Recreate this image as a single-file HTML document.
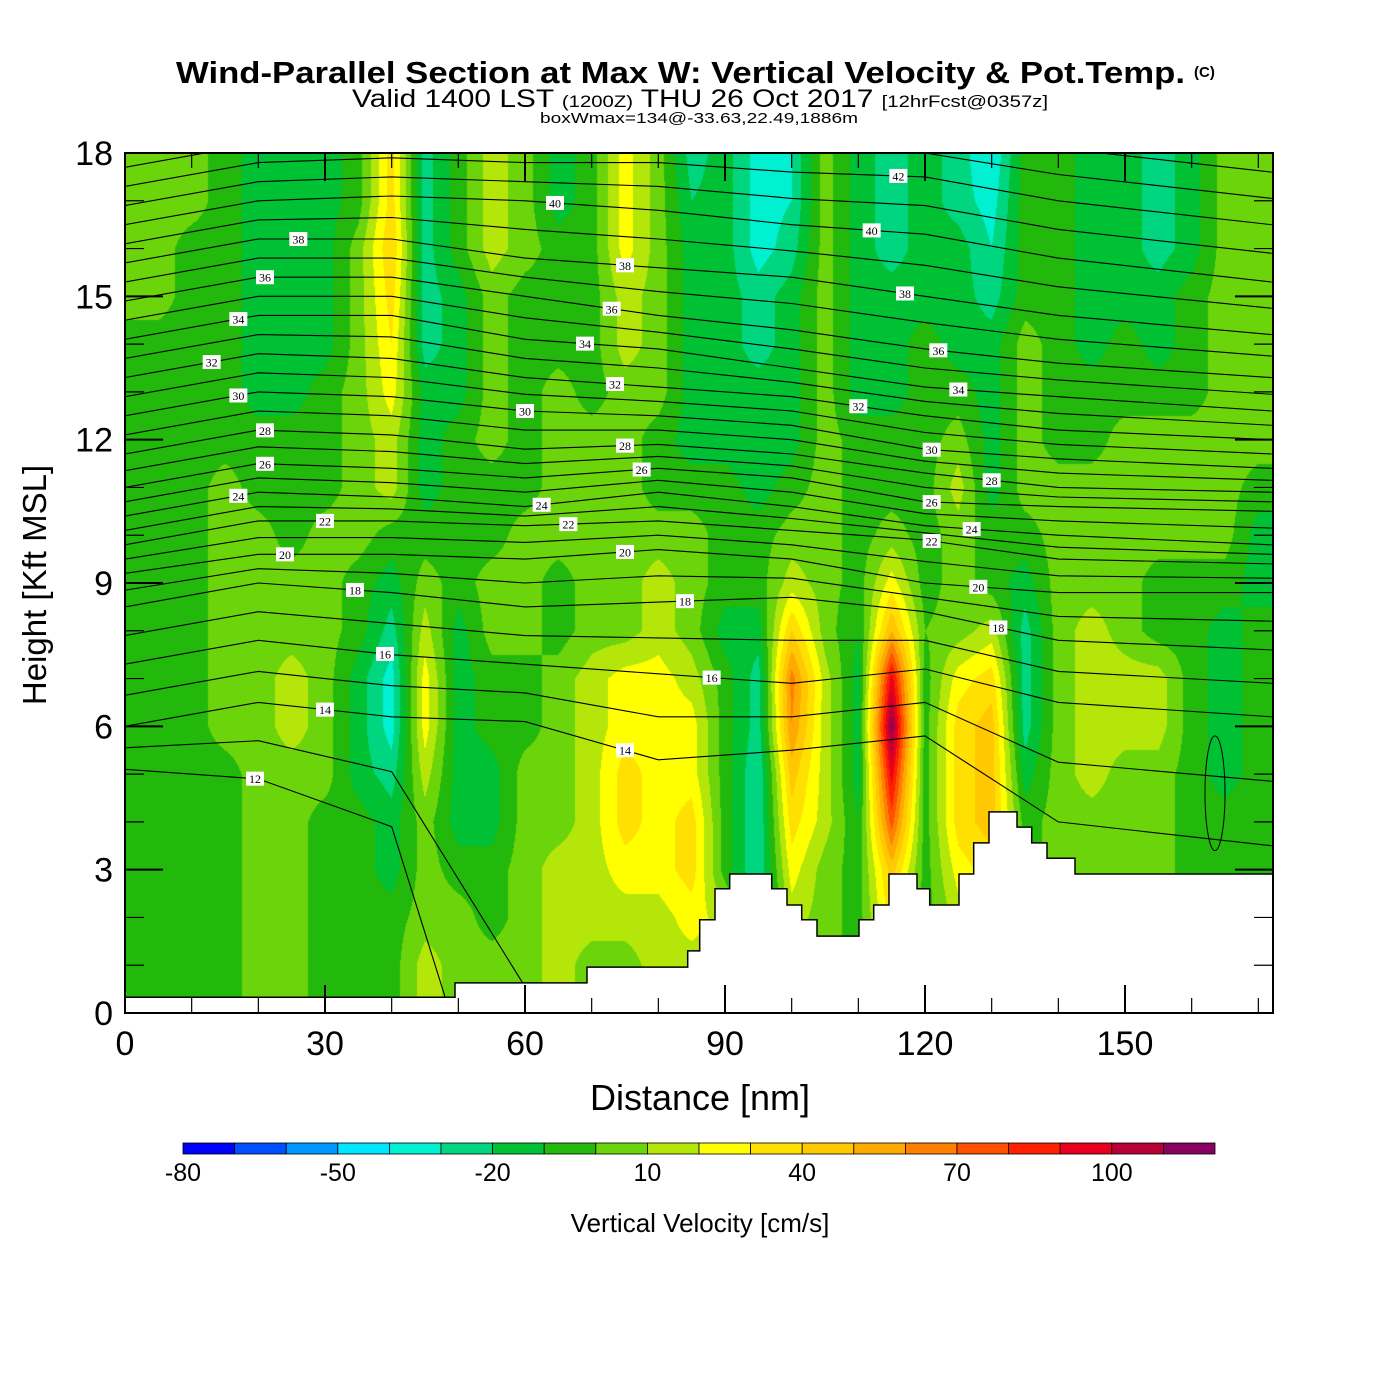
<!DOCTYPE html>
<html><head><meta charset="utf-8">
<style>
html,body{margin:0;padding:0;background:#fff;}
#wrap{position:relative;width:1400px;height:1400px;overflow:hidden;font-family:"Liberation Sans",sans-serif;}
#field{position:absolute;left:125px;top:153px;}
#ov{position:absolute;left:0;top:0;}
</style></head>
<body>
<div id="wrap">
<canvas id="field" width="1148" height="860"></canvas>
<svg id="ov" width="1400" height="1400" xmlns="http://www.w3.org/2000/svg">
<g>
<text x="176" y="83" textLength="1009" lengthAdjust="spacingAndGlyphs" font-size="31" font-weight="bold">Wind-Parallel Section at Max W: Vertical Velocity &amp; Pot.Temp.</text>
<text x="1194" y="77" font-size="15" font-weight="bold">(C)</text>
<text x="352" y="107" textLength="696" lengthAdjust="spacingAndGlyphs" font-size="25">Valid 1400 LST <tspan font-size="17">(1200Z)</tspan> THU 26 Oct 2017 <tspan font-size="17">[12hrFcst@0357z]</tspan></text>
<text x="540" y="123" textLength="318" lengthAdjust="spacingAndGlyphs" font-size="15">boxWmax=134@-33.63,22.49,1886m</text>
</g>
<g id="contours"></g>
<g id="terrain"></g>
<g id="labels"></g>
<g id="axes"></g>
<g id="cbar"></g>
<text x="700" y="1110" text-anchor="middle" font-size="36">Distance [nm]</text>
<text transform="translate(46,585) rotate(-90)" text-anchor="middle" font-size="33">Height [Kft MSL]</text>
<text x="700" y="1232" text-anchor="middle" font-size="26">Vertical Velocity [cm/s]</text>
</svg>
</div>
<script>
// ---- data ----
const gridX = [0,5,10,15,20,25,30,35,40,45,50,55,60,65,70,75,80,85,90,95,100,105,110,115,120,125,130,135,140,145,150,155,160,165,170];
const gridH = [18,17,16,15,14,13,12,11,10,9,8,7,6,5,4,3,2,1,0];
const w18=[5,5,5,-5,-15,-15,-15,-5,35,-25,-5,15,5,-15,-5,25,5,-25,-15,-35,-30,5,-15,-25,-15,-25,-40,-5,-5,-15,-15,-25,-15,5,5];
const w17=[5,5,5,-5,-15,-15,-15,-5,35,-25,-5,15,5,-15,-5,25,5,-20,-15,-35,-30,5,-15,-25,-15,-25,-35,-5,-5,-15,-15,-25,-15,5,5];
const w16=[5,5,-5,-5,-15,-15,-15,5,40,-25,-5,15,5,-5,-5,25,5,-15,-15,-35,-25,5,-15,-25,-15,-15,-30,-5,-5,-15,-15,-25,-15,5,5];
const w15=[5,5,-5,-5,-15,-15,-15,5,35,-25,-15,5,-5,-5,-5,15,5,-15,-15,-25,-15,5,-15,-15,-15,-15,-25,-5,-5,-15,-15,-15,-5,5,5];
const w14=[-5,-5,-5,-5,-15,-15,-15,5,30,-25,-15,5,-5,-5,-5,15,5,-15,-15,-25,-15,5,-15,-15,-5,-15,-15,5,-5,-15,-5,-15,-5,5,5];
const w13=[-5,-5,-5,-5,-15,-15,-5,5,25,-15,-15,5,-5,5,-5,5,5,-15,-15,-15,-15,5,-15,-15,-5,-5,-15,5,-5,-5,-5,-5,-5,5,5];
const w12=[-5,-5,-5,-5,-5,-5,-5,5,15,-15,-5,5,-5,5,5,5,-5,-15,-15,-15,-15,5,-5,-5,-5,5,-15,5,-5,-5,5,5,5,5,5];
const w11=[-5,-5,-5,5,-5,-5,-5,5,15,-15,-5,-5,-5,5,5,5,-5,-5,-5,-15,-5,5,-5,-5,-5,15,-15,5,5,5,5,5,5,5,-5];
const w10=[-5,-5,-5,5,5,-5,5,5,-5,-5,-5,-5,5,5,5,5,5,5,-5,-5,5,5,-5,5,-5,5,-5,-5,5,5,5,5,5,5,-15];
const w9=[-5,-5,-5,5,5,5,5,-5,-15,5,-5,5,5,-5,5,5,15,5,-5,-5,15,5,-5,25,-5,5,-5,-15,5,5,5,-5,-5,-5,-15];
const w8=[-5,-5,-5,5,5,5,5,-5,-25,15,-15,5,5,-5,5,5,15,5,-15,-15,40,5,-10,50,0,5,15,-25,5,15,5,-5,-5,-15,-5];
const w7=[-5,-5,-5,5,5,15,5,-15,-35,25,-15,-5,-5,5,15,25,25,15,-5,-25,65,15,-15,95,-5,25,35,-25,5,15,15,15,-5,-15,-5];
const w6=[-5,-5,-5,5,5,15,5,-15,-35,25,-15,-5,-5,5,15,25,25,25,-5,-25,60,15,-15,115,-5,35,45,-25,5,15,15,15,-5,-15,-5];
const w5=[-5,-5,-5,-5,5,5,5,-15,-25,15,-15,-15,5,5,15,35,25,25,-5,-30,45,15,-15,95,-5,35,45,-15,5,15,5,5,-5,-15,-5];
const w4=[-5,-5,-5,-5,5,5,-5,-5,-15,5,-15,-15,5,5,15,35,25,35,-5,-30,35,15,-10,75,-5,35,45,-5,5,5,5,5,-5,-5,-5];
const w3=[-5,-5,-5,-5,5,5,-5,-5,-15,5,-5,-5,5,15,15,25,25,35,-5,-30,25,5,-5,45,-5,25,35,-5,5,5,5,5,-5,-5,-5];
const w2=[-5,-5,-5,-5,5,5,-5,-5,-5,5,5,-5,5,15,15,15,15,25,15,-30,15,5,-5,35,-5,15,25,-5,5,5,5,5,-5,-5,-5];
const w1=[-5,-5,-5,-5,5,5,-5,-5,-5,15,5,5,5,15,5,5,15,15,15,-5,5,5,-5,25,-5,5,5,-5,5,5,5,5,-5,-5,-5];
const w0=[-5,-5,-5,-5,5,5,-5,-5,-5,15,5,5,5,15,5,5,15,15,15,-5,5,5,-5,25,-5,5,5,-5,5,5,5,5,-5,-5,-5];
const velRows=[w18,w17,w16,w15,w14,w13,w12,w11,w10,w9,w8,w7,w6,w5,w4,w3,w2,w1,w0];

const cbLevels=[-80,-70,-60,-50,-40,-30,-20,-10,0,10,20,30,40,50,60,70,80,90,100,110,120];
const cbColors=["#0000ff","#0050ff","#0096ff","#00e6ff","#00f0d2","#00d67f","#00c034","#22b80c","#6cd40a","#b4e60a","#ffff00","#ffe000","#ffc800","#ffaa00","#ff8000","#ff5000","#ff2000","#e8001e","#b80038","#880060"];
const cbTickLabels=["-80","-50","-20","10","40","70","100"];

const terrX=[0,49.5,69.3,84.4,86.2,88.5,90.7,97.0,99.3,101.5,103.8,110.1,112.3,114.6,118.8,120.7,125.1,127.3,129.6,133.8,136.0,138.3,142.5,172.2];
const terrH=[0.33,0.63,0.96,1.30,1.95,2.60,2.91,2.60,2.26,1.95,1.61,1.95,2.26,2.91,2.60,2.26,2.91,3.56,4.21,3.89,3.56,3.24,2.91];

const thetaX=[0,20,40,60,80,100,120,140,172];
const thetaLevels=[12,14,16,18,20,22,24,26,28,30,32,34,36,38,40,42,44];
const t12=[5.1,4.9,3.9,-5,-5,-5,-5,-5,-5];
const t14=[6.0,6.5,6.2,6.1,5.3,5.5,5.8,4.0,3.5];
const t16=[7.3,7.8,7.5,7.3,7.1,6.9,7.2,6.5,6.2];
const t18=[8.5,9.0,8.8,8.5,8.6,8.7,8.4,7.8,7.6];
const t20=[9.2,9.6,9.6,9.5,9.7,9.5,9.0,8.8,8.8];
const t22=[9.8,10.3,10.3,10.2,10.3,10.1,9.9,9.5,9.4];
const t24=[10.4,10.9,10.8,10.6,10.9,10.6,10.2,10.0,9.8];
const t26=[11.0,11.5,11.4,11.2,11.4,11.2,10.7,10.6,10.5];
const t28=[11.7,12.2,12.1,11.8,11.9,11.7,11.3,11.0,10.9];
const t30=[12.5,13.0,12.9,12.6,12.5,12.3,11.8,11.6,11.4];
const t32=[13.3,13.8,13.7,13.3,13.1,12.9,12.5,12.2,12.0];
const t34=[14.1,14.6,14.6,14.1,13.9,13.5,13.1,12.9,12.6];
const t36=[14.9,15.4,15.4,15.0,14.6,14.3,13.9,13.6,13.3];
const t38=[15.7,16.2,16.2,15.8,15.6,15.4,15.0,14.6,14.2];
const t40=[16.5,17.0,17.1,17.0,16.8,16.5,16.3,15.8,15.3];
const t42=[17.3,17.8,17.9,17.8,17.8,17.6,17.5,17.0,16.5];
const t44=[18.1,18.6,18.7,18.6,18.6,18.6,18.5,18.1,17.6];
const thetaRows=[t12,t14,t16,t18,t20,t22,t24,t26,t28,t30,t32,t34,t36,t38,t40,t42,t44];

const labelLevels=[38,36,34,32,30,28,26,24,22,20,18,16,14,12,40,38,36,34,32,30,28,26,24,22,20,18,16,14,42,40,38,36,34,32,30,26,28,24,22,20,18];
const labelX=[26,21,17,13,17,21,21,17,30,24,34.5,39,30,19.5,64.5,75,73,69,73.5,60,75,77.5,62.5,66.5,75,84,88,75,116,112,117,122,125,110,121,121,130,127,121,128,131];

const xTicks=[0,30,60,90,120,150];
const yTicks=[0,3,6,9,12,15,18];

// ---- scales ----
const X0=125,X1=1273,Y0=1013,Y1=153,XMAX=172.2,HMAX=18;
const sx=v=>X0+v*(X1-X0)/XMAX;
const sy=h=>Y0-h*(Y0-Y1)/HMAX;
const NS="http://www.w3.org/2000/svg";
function mk(tag,attrs,parent){const e=document.createElementNS(NS,tag);for(const k in attrs)e.setAttribute(k,attrs[k]);parent.appendChild(e);return e;}

// ---- field ----
function vel(nm,h){
  let fc=nm/5; if(fc<0)fc=0; if(fc>gridX.length-1)fc=gridX.length-1;
  let fr=(18-h); if(fr<0)fr=0; if(fr>18)fr=18;
  const c0=Math.min(Math.floor(fc),gridX.length-2), r0=Math.min(Math.floor(fr),17);
  const tx=fc-c0, ty=fr-r0;
  const a=velRows[r0][c0],b=velRows[r0][c0+1],c=velRows[r0+1][c0],d=velRows[r0+1][c0+1];
  return (a*(1-tx)+b*tx)*(1-ty)+(c*(1-tx)+d*tx)*ty;
}
function colorFor(v){
  let i=0; while(i<cbLevels.length-2 && v>=cbLevels[i+1]) i++;
  return cbColors[i];
}
const rgbCache={};
function rgb(hex){if(!rgbCache[hex])rgbCache[hex]=[parseInt(hex.substr(1,2),16),parseInt(hex.substr(3,2),16),parseInt(hex.substr(5,2),16)];return rgbCache[hex];}
(function(){
  const cv=document.getElementById('field');const ctx=cv.getContext('2d');
  const W=cv.width,H=cv.height;const img=ctx.createImageData(W,H);
  for(let py=0;py<H;py++){const h=HMAX-(py+0.5)*HMAX/H;
    for(let px=0;px<W;px++){const nm=(px+0.5)*XMAX/W;const c=rgb(colorFor(vel(nm,h)));const o=(py*W+px)*4;
      img.data[o]=c[0];img.data[o+1]=c[1];img.data[o+2]=c[2];img.data[o+3]=255;}}
  ctx.putImageData(img,0,0);
})();

// ---- contours ----
function thetaH(row,nm){
  for(let i=0;i<thetaX.length-1;i++){ if(nm<=thetaX[i+1]){const t=(nm-thetaX[i])/(thetaX[i+1]-thetaX[i]);return row[i]*(1-t)+row[i+1]*t;} }
  return row[row.length-1];
}
const cg=document.getElementById('contours');
const clip=mk('clipPath',{id:'plotclip'},mk('defs',{},cg));
mk('rect',{x:X0,y:Y1,width:X1-X0,height:Y0-Y1},clip);
cg.setAttribute('clip-path','url(#plotclip)');
for(let k=0;k<thetaRows.length;k++){
  const rows=[thetaRows[k]];
  if(k<thetaRows.length-1){rows.push(thetaRows[k].map((v,i)=>(v+thetaRows[k+1][i])/2));}
  rows.forEach(r=>{
    let d='';
    for(let i=0;i<thetaX.length;i++){d+=(i?'L':'M')+sx(thetaX[i]).toFixed(1)+' '+sy(r[i]).toFixed(1);}
    const p=mk('path',{d:d,fill:'none',stroke:'#000','stroke-width':1.1},cg);
    
    
  });
}
const ell=mk('ellipse',{cx:sx(163.5),cy:sy(4.6),rx:10,ry:Math.abs(sy(3.4)-sy(5.8))/2,fill:'none',stroke:'#000','stroke-width':1},cg);



// ---- terrain ----
(function(){
  const tg=document.getElementById('terrain');
  let d='M'+sx(0)+' '+Y0;
  for(let i=0;i<terrH.length;i++){d+=' L'+sx(terrX[i]).toFixed(1)+' '+sy(terrH[i]).toFixed(1)+' L'+sx(terrX[i+1]).toFixed(1)+' '+sy(terrH[i]).toFixed(1);}
  d+=' L'+X1+' '+Y0+' Z';
  const p=mk('path',{d:d,fill:'#fff',stroke:'#000','stroke-width':1.5},tg);
  
  
})();

// ---- labels ----
(function(){
  const lg=document.getElementById('labels');
  for(let i=0;i<labelLevels.length;i++){
    const k=thetaLevels.indexOf(labelLevels[i]);if(k<0)continue;
    const x=sx(labelX[i]),y=sy(thetaH(thetaRows[k],labelX[i]));
    const g=mk('g',{},lg);
    
    
    mk('rect',{x:x-9,y:y-7,width:18,height:14,fill:'#fff'},g);
    const t=mk('text',{x:x,y:y+4.5,'text-anchor':'middle','font-size':12,'font-family':'Liberation Serif, serif'},g);
    t.textContent=labelLevels[i];
  }
})();

// ---- axes ----
(function(){
  const ag=document.getElementById('axes');
  const fr=mk('rect',{x:X0,y:Y1,width:X1-X0,height:Y0-Y1,fill:'none',stroke:'#000','stroke-width':2},ag);
  
  
  for(let v=0;v<=170;v+=10){
    const major=v%30===0;const L=major?28:15;
    mk('line',{x1:sx(v),x2:sx(v),y1:Y0,y2:Y0-L,stroke:'#000','stroke-width':major?2:1.2},ag);
    mk('line',{x1:sx(v),x2:sx(v),y1:Y1,y2:Y1+L,stroke:'#000','stroke-width':major?2:1.2},ag);
  }
  xTicks.forEach(v=>{const t=mk('text',{x:sx(v),y:1055,'text-anchor':'middle','font-size':34},ag);t.textContent=v;
    
    });
  for(let h=0;h<=18;h++){
    const major=h%3===0;const L=major?38:19;
    mk('line',{x1:X0,x2:X0+L,y1:sy(h),y2:sy(h),stroke:'#000','stroke-width':major?2:1.2},ag);
    mk('line',{x1:X1,x2:X1-L,y1:sy(h),y2:sy(h),stroke:'#000','stroke-width':major?2:1.2},ag);
  }
  yTicks.forEach(h=>{const t=mk('text',{x:113,y:sy(h)+12,'text-anchor':'end','font-size':34},ag);t.textContent=h;
    
    });
})();

// ---- colorbar ----
(function(){
  const g=document.getElementById('cbar');
  const L=183,R=1215,n=cbColors.length,w=(R-L)/n;
  const cbx=v=>L+(v-cbLevels[0])/(cbLevels[n]-cbLevels[0])*(R-L);
  for(let i=0;i<n;i++){
    const r=mk('rect',{x:cbx(cbLevels[i]),y:1143,width:w,height:11,fill:cbColors[i],stroke:'#000','stroke-width':0.8},g);
    
    
  }
  cbTickLabels.forEach(s=>{const t=mk('text',{x:cbx(+s),y:1181,'text-anchor':'middle','font-size':25},g);t.textContent=s;
    
    });
})();
</script>
</body></html>
